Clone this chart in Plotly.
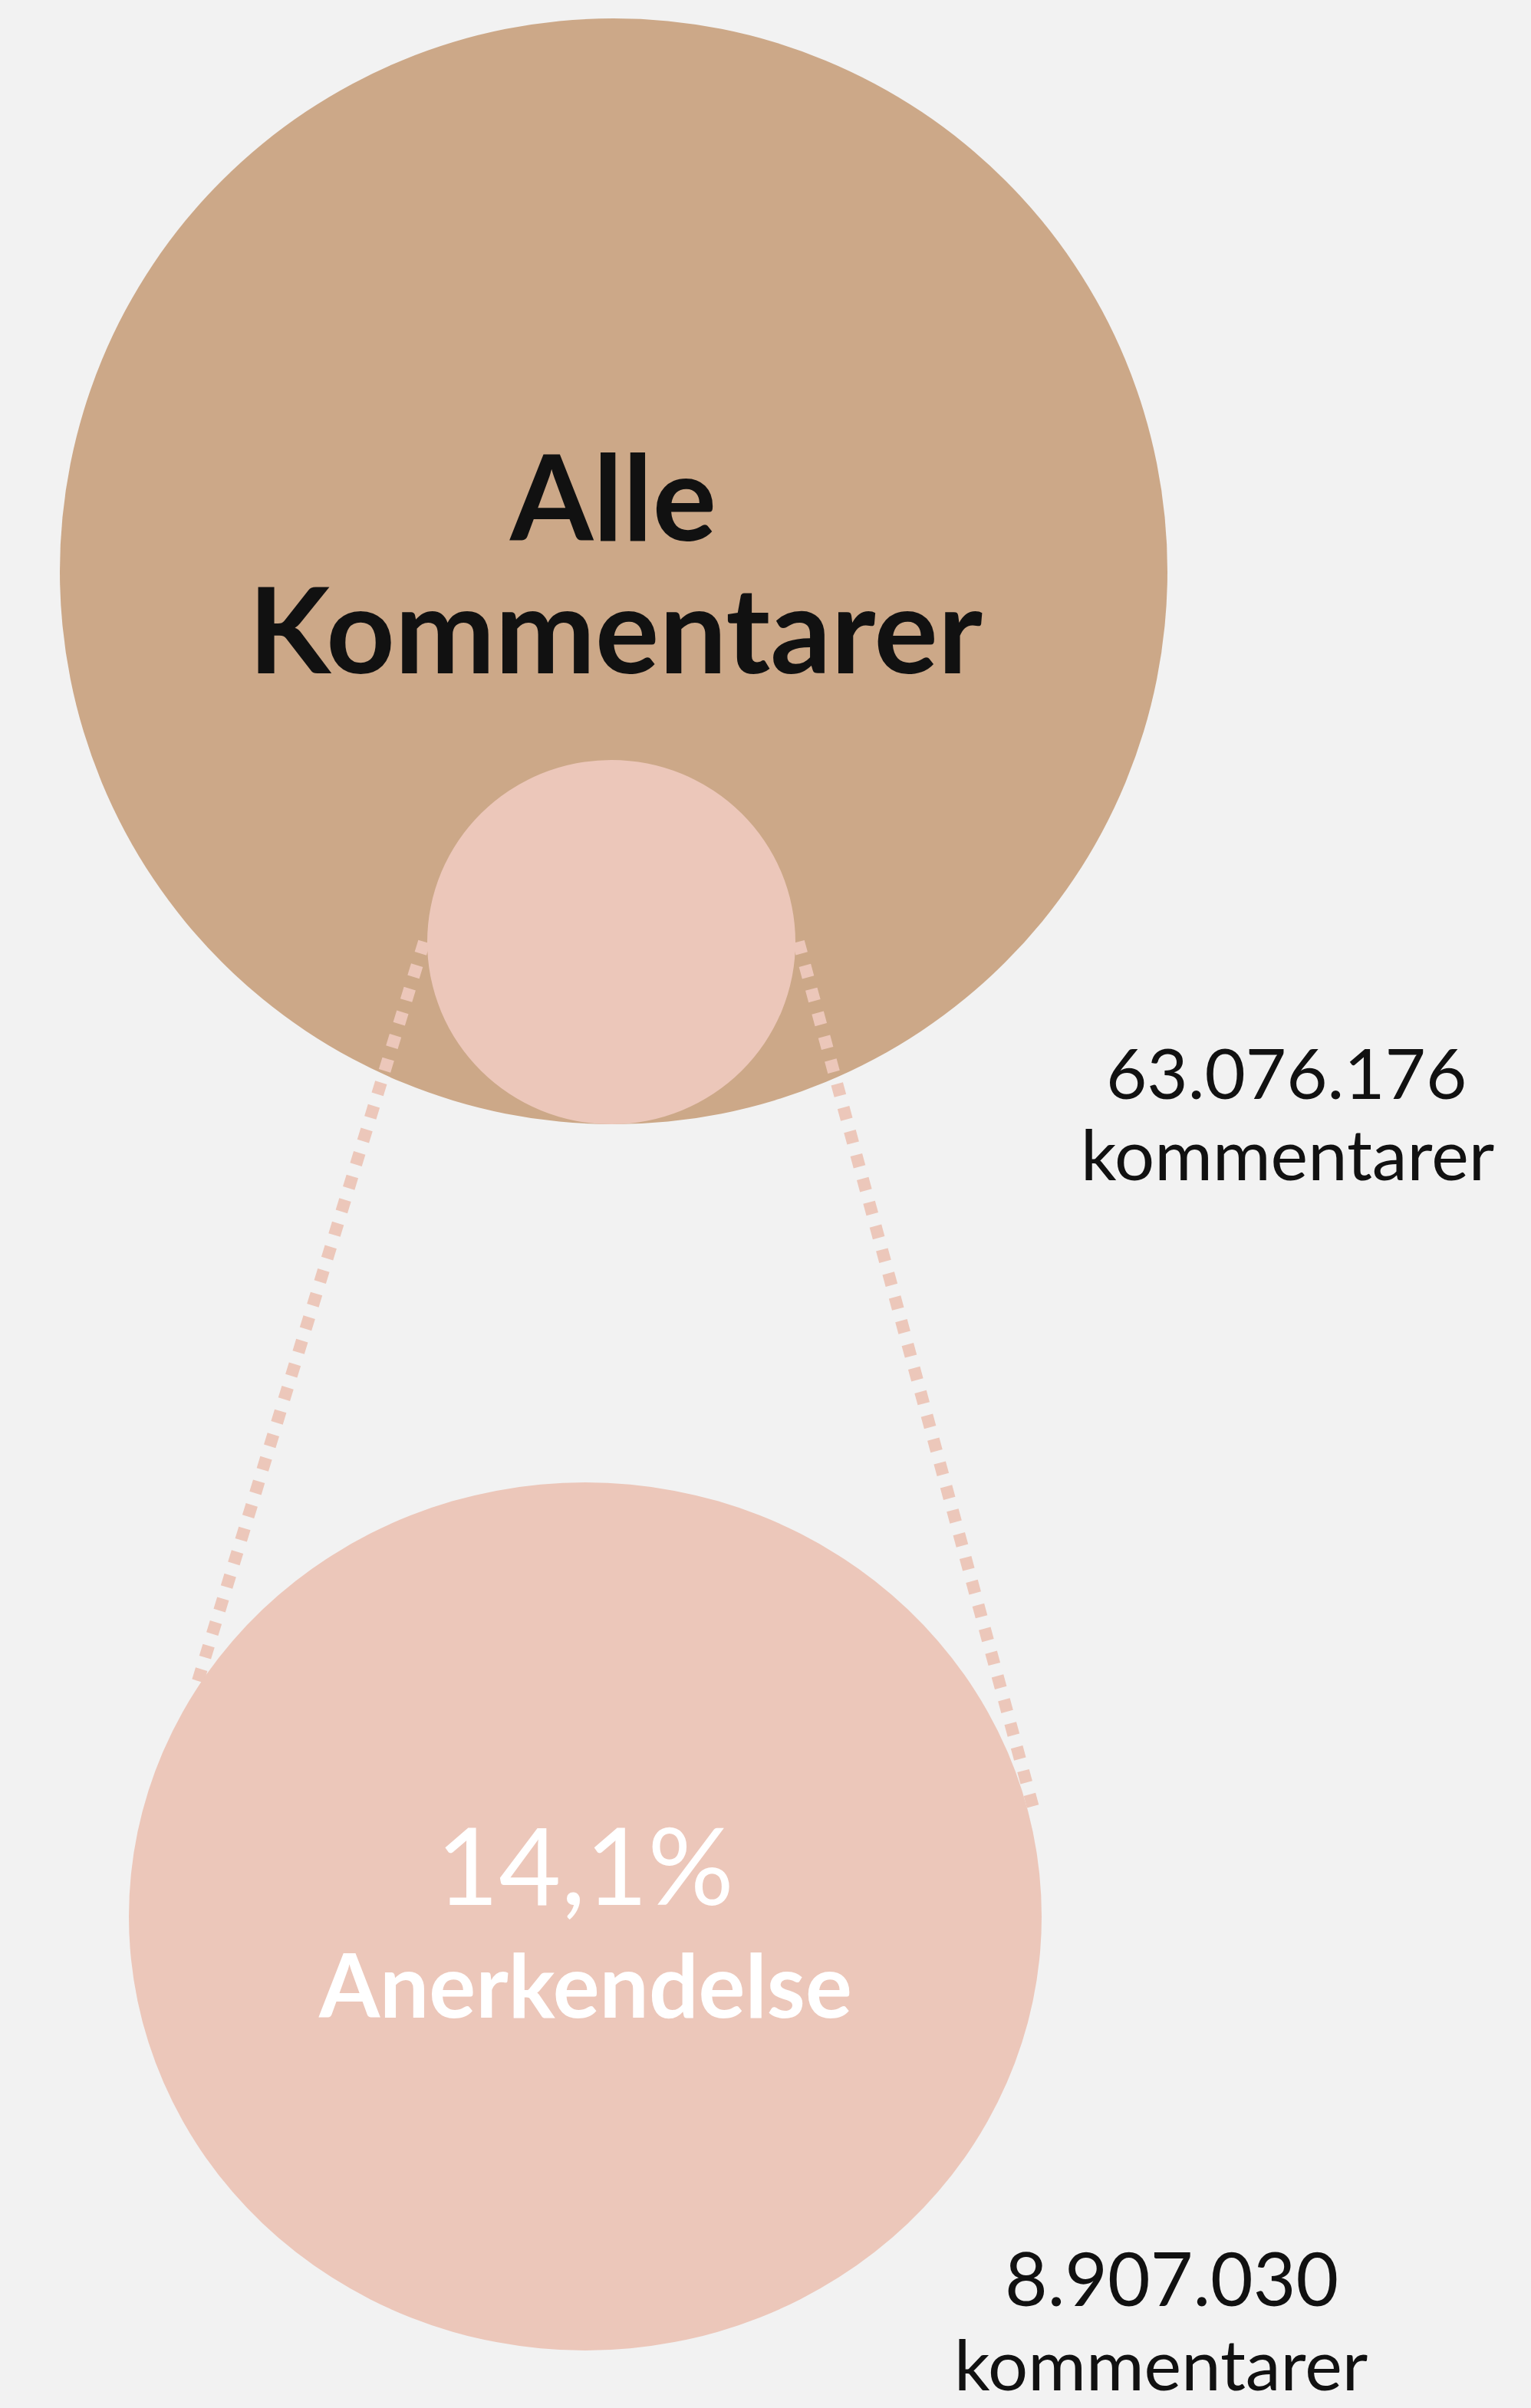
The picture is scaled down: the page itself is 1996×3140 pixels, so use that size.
import plotly.graph_objects as go

# ---- data ----
group_labels = ["Alle", "Kommentarer"]
subset_label = "Anerkendelse"
total_comments = 63076176
subset_comments = 8907030
unit_label = "kommentarer"

share = subset_comments / total_comments
share_text = f"{share*100:.1f}%".replace(".", ",")

def fmt(n):
    return f"{n:,}".replace(",", ".")

BG = "#F2F2F2"
BROWN = "#CCA888"
PINK = "#ECC7BA"
DARK = "#111111"
W, H = 1996, 3140
FONT = "Lato"

fig = go.Figure()
fig.add_trace(go.Scatter(x=[0, W], y=[0, H], mode="markers",
                         marker=dict(opacity=0), hoverinfo="skip", showlegend=False))

shapes = [
    dict(type="circle", x0=78, x1=1522, y0=24, y1=1466, fillcolor=BROWN, line=dict(width=0), layer="below"),
    dict(type="line", x0=553, y0=1228, x1=258, y1=2192, line=dict(color=PINK, width=16, dash="dot"), layer="below"),
    dict(type="line", x0=1041, y0=1228, x1=1347, y1=2357, line=dict(color=PINK, width=16, dash="dot"), layer="below"),
    dict(type="circle", x0=557, x1=1037, y0=991, y1=1466, fillcolor=PINK, line=dict(width=0), layer="below"),
    dict(type="circle", x0=168, x1=1358, y0=1933, y1=3065, fillcolor=PINK, line=dict(width=0), layer="below"),
]

ann = []
def add(text, x, y, size, color, bold=False, weight=None):
    f = dict(family=FONT, size=size, color=color)
    if weight is not None:
        f["weight"] = weight
    ann.append(dict(text=f"<b>{text}</b>" if bold else text, x=x, y=y, xref="x", yref="y",
                    showarrow=False, xanchor="center", yanchor="middle", font=f))

add(group_labels[0], 799, 644, 156, DARK, True)
add(group_labels[1], 802, 817, 156, DARK, True)
add(fmt(total_comments), 1677, 1397, 92, DARK)
add(unit_label, 1678, 1503, 92, DARK)
add(share_text, 763, 2430, 140, "#FFFFFF")
add(subset_label, 763, 2586, 114, "#FFFFFF", True)
add(fmt(subset_comments), 1527, 2969, 96, DARK)
add(unit_label, 1513, 3081, 92, DARK)

fig.update_layout(
    width=W, height=H, margin=dict(l=0, r=0, t=0, b=0),
    paper_bgcolor=BG, plot_bgcolor=BG,
    xaxis=dict(range=[0, W], visible=False, fixedrange=True),
    yaxis=dict(range=[H, 0], visible=False, fixedrange=True),
    shapes=shapes, annotations=ann, showlegend=False,
)
fig.write_html("out.html", config={"displayModeBar": False},
               post_script="document.body.style.margin='0';document.body.style.background='#F2F2F2';")
